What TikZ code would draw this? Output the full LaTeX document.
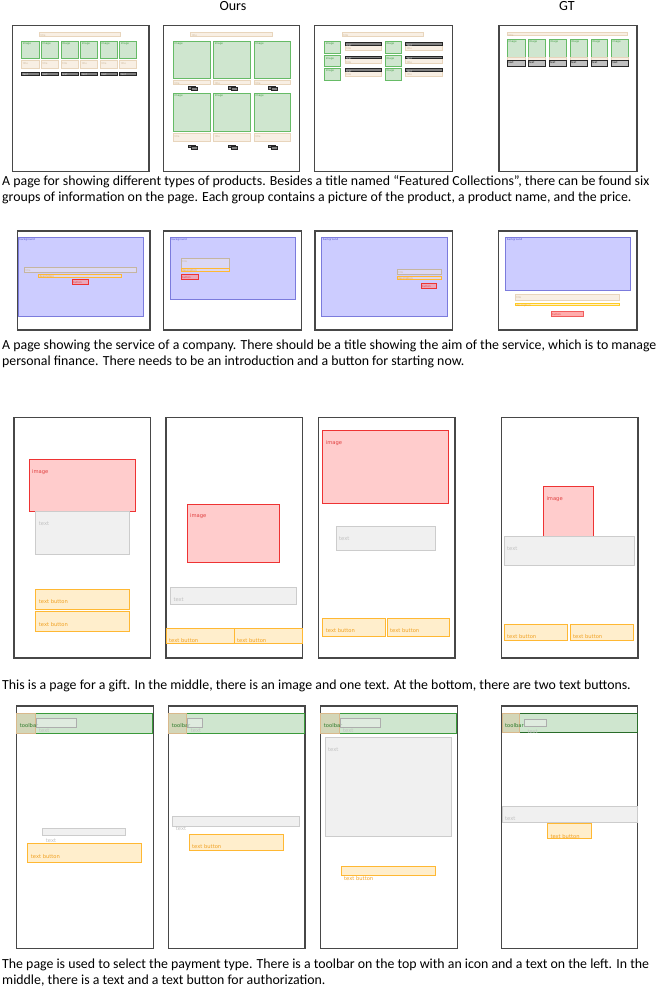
\documentclass[tikz,border=0pt]{standalone}
\usepackage{fontspec}
\setmainfont{Carlito}
\newfontfamily\labfont{DejaVu Sans}
\definecolor{gfill}{HTML}{CFE6CF}
\definecolor{gdraw}{HTML}{66BB66}
\definecolor{glab}{HTML}{3C9A3C}
\definecolor{tfill}{HTML}{F8EFE4}
\definecolor{tdraw}{HTML}{E8D5BC}
\definecolor{tlab}{HTML}{CDB89A}
\definecolor{bfill}{HTML}{CCCCFF}
\definecolor{bdraw}{HTML}{7B7BDD}
\definecolor{blab}{HTML}{4A4AC8}
\definecolor{rfill}{HTML}{FFCCCC}
\definecolor{rdraw}{HTML}{EE3333}
\definecolor{rlab}{HTML}{E04040}
\definecolor{xfill}{HTML}{F0F0F0}
\definecolor{xdraw}{HTML}{CCCCCC}
\definecolor{xlab}{HTML}{C0C0C0}
\definecolor{ofill}{HTML}{FFEECC}
\definecolor{odraw}{HTML}{FFB833}
\definecolor{olab}{HTML}{F0A020}
\definecolor{tbdraw}{HTML}{3A9A3A}
\definecolor{tblab}{HTML}{2A7A2A}
\definecolor{icfill}{HTML}{D3D6B8}
\definecolor{icdraw}{HTML}{D9B98C}
\newcommand\labsz{\fontsize{2.6}{2.6}\selectfont}
\newcommand\ldx{1}
\newcommand\ldy{2.8}
\newcommand\bx[6]{\path[#1] (#2,#3) rectangle (#4,#5); \node[lab,#1 lab] at ({#2+\ldx},{#3+\ldy}) {#6};}
\tikzset{
 lab/.style={anchor=west, inner sep=0pt, font=\labfont\labsz},
 panel/.style={draw=black!72, line width=1.1pt},
 captxt/.style={anchor=mid west, inner sep=0pt, font=\fontsize{13.85}{16}\selectfont},
 hdr/.style={inner sep=0pt, font=\fontsize{14}{16}\selectfont},
 img/.style={draw=gdraw, fill=gfill, line width=0.5pt},
 img lab/.style={text=glab},
 ttl/.style={draw=tdraw, fill=tfill, line width=0.5pt},
 ttl lab/.style={text=tlab},
 dbtn/.style={draw=black!85, fill=black!50, line width=0.5pt},
 dbtn lab/.style={text=black!15},
 gbtn/.style={draw=black!85, fill=black!25, line width=0.5pt},
 gbtn lab/.style={text=black},
 bg/.style={draw=bdraw, fill=bfill, line width=0.6pt},
 bg lab/.style={text=blab},
 ttlb/.style={draw=tdraw!85!black, fill=tfill, fill opacity=0.35, line width=0.5pt},
 ttlb lab/.style={text=tlab},
 desb/.style={draw=odraw, fill=ofill, fill opacity=0.35, line width=0.5pt},
 desb lab/.style={text=olab},
 btnb/.style={draw=rdraw, fill=rfill!70!red, fill opacity=0.6, line width=0.6pt},
 btnb lab/.style={text=rlab},
 des/.style={draw=odraw!70!yellow, fill=ofill, line width=0.5pt},
 des lab/.style={text=olab},
 btn/.style={draw=rdraw!80, fill=rfill!85!red, line width=0.6pt},
 btn lab/.style={text=rlab},
 rimg/.style={draw=rdraw, fill=rfill, line width=0.9pt},
 rimg lab/.style={text=rlab},
 txt/.style={draw=xdraw, fill=xfill, line width=0.9pt},
 txt lab/.style={text=xlab},
 obtn/.style={draw=odraw, fill=ofill, line width=0.9pt},
 obtn lab/.style={text=olab},
 tbar/.style={draw=tbdraw, fill=gfill, line width=0.9pt},
 tbar lab/.style={text=tblab},
 tbarg/.style={draw=tbdraw!70!black, fill=gfill, line width=0.9pt},
 tbarg lab/.style={text=tblab},
 icon/.style={draw=icdraw, fill=icfill, line width=0.8pt},
 icon lab/.style={text=tlab},
 txts/.style={draw=xdraw!85!black, fill=xfill, fill opacity=0.5, line width=0.9pt},
 txts lab/.style={text=xlab},
}
\begin{document}
\begin{tikzpicture}[x=1pt,y=-1pt]
\useasboundingbox[fill=white] (0,0) rectangle (665,990);
% headers
\node[hdr] (ours) at (233,6) {Ours};
\node[hdr] (gt) at (567,6) {GT};

% ================= ROW 1 =================
\draw[panel] (12.7,25.7) rectangle (149,171.7);
\draw[panel] (163.3,25.7) rectangle (299.3,171.7);
\draw[panel] (314.7,25.7) rectangle (452.5,171.7);
\draw[panel] (499,25.7) rectangle (637,171.7);
% panel 1
\bx{ttl}{39.3}{32.3}{120.7}{36.7}{title}
\foreach \a/\b in {21.7/39, 41.3/58.7, 61/78, 80.7/97.7, 100.3/117.3, 119.7/136.7}{
 \bx{img}{\a}{41.3}{\b}{58.7}{image}
 \bx{ttl}{\a}{60.3}{\b}{68.7}{title}
 \bx{dbtn}{\a}{72.3}{\b}{75.3}{text}
}
% panel 2
\bx{ttl}{190.7}{32.3}{272.7}{36.7}{title}
\foreach \a/\b/\c in {173.3/210/192.5, 213.7/250.3/232.5, 254.3/290.7/272.5}{
 \bx{img}{\a}{41.3}{\b}{78.7}{image}
 \bx{ttl}{\a}{80.3}{\b}{84.7}{title}
 \bx{dbtn}{\c-4.5}{86}{\c+3}{89}{}
 \bx{dbtn}{\c-1}{87.3}{\c+4.5}{90.3}{}
 \bx{img}{\a}{93.3}{\b}{131}{image}
 \bx{ttl}{\a}{133.3}{\b}{141.7}{title}
 \bx{dbtn}{\c-4.5}{145}{\c+3}{147.5}{}
 \bx{dbtn}{\c-1}{146.3}{\c+4.5}{148.8}{}
}
% panel 3
\bx{ttl}{342}{32.3}{423.7}{36.7}{title}
\foreach \ia/\ib/\ta/\tb in {324.7/340.7/345/381.3, 385/401/405.7/442}{
 \foreach \y/\yy/\t/\tt in {41.3/53.3/42.7/50.7, 55.7/66.7/56.3/63.7, 68/80/68.7/76.7}{
  \bx{img}{\ia}{\y}{\ib}{\yy}{image}
  \bx{ttl}{\ta}{\t+1.6}{\tb}{\tt}{}
  \node[lab,ttl lab] at ({\ta+1},{\t+5.8}) {title};
  \bx{dbtn}{\ta}{\t}{\tb}{\t+2.4}{text}
 }
}
% GT
\bx{ttl}{507.3}{32.3}{627.7}{35.7}{title}
\foreach \a/\b in {507.3/525, 528/545.7, 549/566.3, 570/587, 591/607.7, 611.3/628.3}{
 \bx{img}{\a}{39.3}{\b}{58.7}{image}
 \bx{ttl}{\a}{57.3}{\b}{60}{}
 \bx{gbtn}{\a}{60.3}{\b}{66.7}{text}
}
\node[captxt] (c1a) at (2,183) {A page for showing different types of products. Besides a title named “Featured Collections”, there can be found six};
\node[captxt] (c1b) at (2,199) {groups of information on the page. Each group contains a picture of the product, a product name, and the price.};

% ================= ROW 2 =================
\draw[panel] (17.3,231) rectangle (150,330);
\draw[panel] (163.7,231) rectangle (301.7,330);
\draw[panel] (315,231) rectangle (452.7,330);
\draw[panel] (498.7,231) rectangle (637,330);
% panel 1
\bx{bg}{18.3}{237.3}{143.7}{316.7}{background}
\bx{ttlb}{24.3}{267.7}{136.7}{272.3}{title}
\bx{desb}{38.3}{274.3}{121.7}{277.7}{description}
\bx{btnb}{72}{279.3}{88.7}{284}{button}
% panel 2
\bx{bg}{170.3}{237.3}{295}{299.3}{background}
\bx{ttlb}{181}{258.3}{229.7}{268.3}{title}
\bx{desb}{181}{268.3}{229.7}{271.7}{description}
\bx{btnb}{181}{274.3}{198.7}{279.3}{button}
% panel 3
\bx{bg}{321.7}{237.3}{447}{316.7}{background}
\bx{ttlb}{397}{269.7}{441.7}{274.3}{title}
\bx{desb}{397}{276}{441.7}{279.3}{description}
\bx{btnb}{421}{283.7}{436.7}{288}{button}
% GT
\bx{bg}{505.7}{237.3}{630.3}{290.7}{background}
\bx{ttl}{515}{294.3}{619.7}{300.3}{title}
\bx{des}{515}{303}{619.7}{305.7}{description}
\bx{btn}{551}{311.3}{583.7}{316}{button}
\node[captxt] (c2a) at (2,347) {A page showing the service of a company. There should be a title showing the aim of the service, which is to manage};
\node[captxt] (c2b) at (2,363) {personal finance. There needs to be an introduction and a button for starting now.};

% ================= ROW 3 =================
\renewcommand\labsz{\fontsize{5.2}{5.2}\selectfont}
\renewcommand\ldx{3}
\renewcommand\ldy{12.5}
\draw[panel] (14,417.3) rectangle (150.7,658);
\draw[panel] (166,417.3) rectangle (302.3,658);
\draw[panel] (318.3,417.3) rectangle (455,658);
\draw[panel] (501.3,417.3) rectangle (638,658);
% panel 1
\bx{rimg}{29}{459.3}{135.7}{511.3}{image}
\bx{txt}{35.7}{511.3}{129.3}{554.3}{text}
\bx{obtn}{35.7}{589}{129.3}{609.3}{text button}
\bx{obtn}{35.7}{611.7}{129.3}{631.7}{text button}
% panel 2
\bx{rimg}{187}{504}{279.7}{562}{image}
\bx{txt}{170.3}{587}{296}{604.7}{text}
\bx{obtn}{166}{628}{234}{643.3}{text button}
\bx{obtn}{234}{628}{302.3}{643.3}{text button}
% panel 3
\bx{rimg}{322.7}{430.7}{448.7}{503}{image}
\bx{txt}{336}{526.7}{435.3}{550.3}{text}
\bx{obtn}{322.7}{618.3}{385.7}{636}{text button}
\bx{obtn}{387}{618.3}{449.7}{636}{text button}
% GT
\bx{rimg}{543.3}{486.7}{593.7}{536}{image}
\bx{txt}{504}{536}{634.3}{565.3}{text}
\bx{obtn}{504}{624}{567}{640}{text button}
\bx{obtn}{570}{624}{633.7}{640}{text button}
\node[captxt] (c3a) at (2,687) {This is a page for a gift. In the middle, there is an image and one text. At the bottom, there are two text buttons.};

% ================= ROW 4 =================
\draw[panel] (16.7,706) rectangle (153.3,948.7);
\draw[panel] (168.7,706) rectangle (305,948.7);
\draw[panel] (320.7,706) rectangle (457.3,948.7);
\draw[panel] (501.3,706) rectangle (637.7,948.7);
% panel 1
\bx{tbar}{16.7}{713.3}{152.7}{733}{}
\bx{icon}{16.7}{713.3}{35}{733}{}
\node[lab,tbar lab] (tb1) at (19.7,725.8) {toolbar};
\bx{txts}{36}{718.3}{76.7}{727.3}{text}
\bx{txt}{42.7}{828.3}{125.7}{835.3}{text}
\bx{obtn}{27.7}{843.7}{141}{862.7}{text button}
% panel 2
\bx{tbar}{168.7}{713.3}{304.3}{733}{}
\bx{icon}{168.7}{713.3}{186.7}{733}{}
\node[lab,tbar lab] (tb2) at (171.7,725.8) {toolbar};
\bx{txts}{187.7}{718.3}{202}{727.3}{text}
\bx{txt}{172.7}{816.7}{299.3}{826.7}{text}
\bx{obtn}{189}{834}{283.3}{850.3}{text button}
% panel 3
\bx{tbar}{320.7}{713.3}{456.7}{733.3}{}
\bx{icon}{320.7}{713.3}{339}{733.3}{}
\node[lab,tbar lab] (tb3) at (323.7,725.8) {toolbar};
\bx{txts}{340}{718.3}{380.3}{727.3}{text}
\bx{txt}{325}{737.3}{451.3}{836.3}{text}
\bx{obtn}{341}{866}{435.3}{875.7}{text button}
% GT
\bx{tbarg}{502}{713.3}{637.7}{732.3}{}
\bx{icon}{502}{713.3}{519.7}{732.3}{}
\node[lab,tbarg lab] (tb4) at (505,725.8) {toolbar};
\bx{txts}{524.3}{719}{546.3}{726.7}{text}
\bx{txt}{502}{806.7}{637.7}{822.7}{text}
\bx{obtn}{547.3}{823.7}{591.7}{838.7}{text button}
\node[captxt] (c4a) at (2,966) {The page is used to select the payment type. There is a toolbar on the top with an icon and a text on the left. In the};
\node[captxt] (c4b) at (2,982) {middle, there is a text and a text button for authorization.};
\end{tikzpicture}
\end{document}
